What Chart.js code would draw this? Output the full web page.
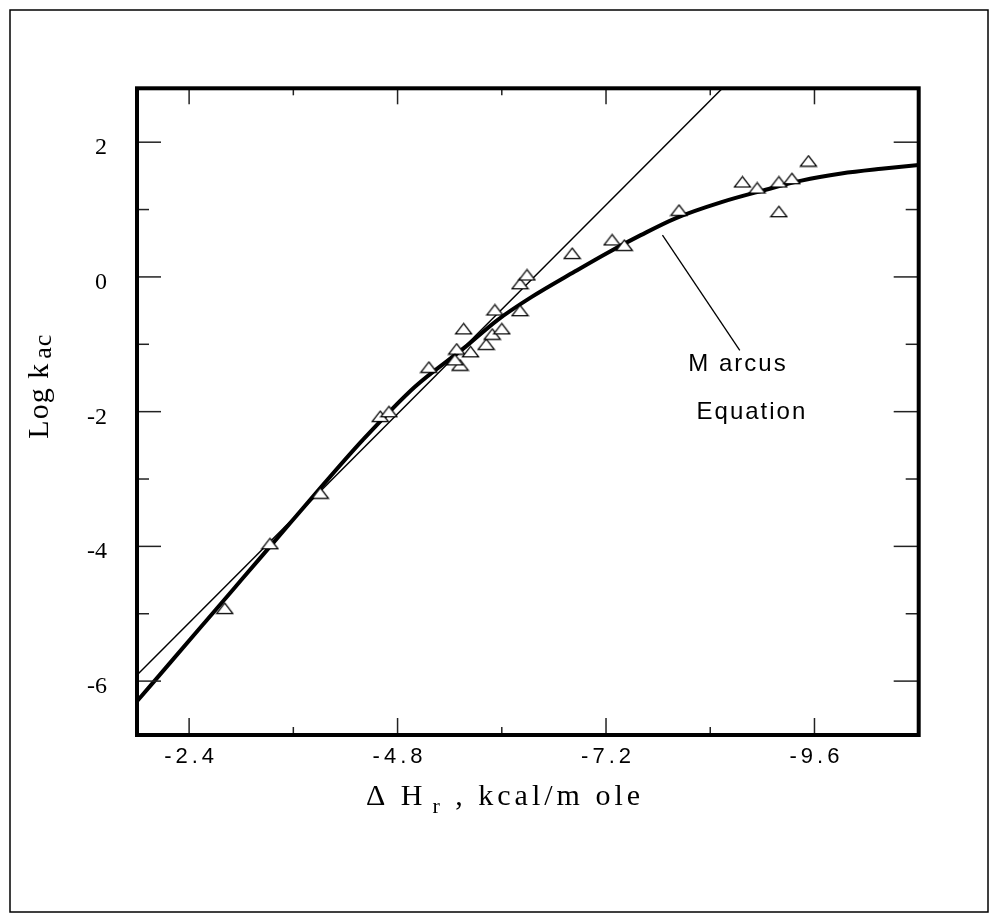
<!DOCTYPE html>
<html>
<head>
<meta charset="utf-8">
<script src="https://cdn.jsdelivr.net/npm/chart.js@4.4.1/dist/chart.umd.min.js"></script>
<style>
  html, body { margin: 0; padding: 0; background: #fff; }
</style>
</head>
<body>
<canvas id="marcusChart" width="998" height="922"></canvas>
<script>
// measured rate constants (open triangles)
const enthalpy = [-2.81, -3.33, -3.91, -4.60, -4.70, -5.16, -5.48, -5.52, -5.46, -5.56, -5.64, -5.82,
                  -5.89, -5.92, -6.00, -6.21, -6.21, -6.29, -6.81, -7.27, -7.41, -8.04, -8.77, -8.94,
                  -9.19, -9.19, -9.34, -9.53];
const logK = [-4.92, -3.96, -3.21, -2.07, -2.00, -1.34, -1.07, -1.31, -1.23, -0.77, -1.11, -1.00,
              -0.85, -0.49, -0.77, -0.10, -0.50, 0.03, 0.35, 0.55, 0.47, 0.99, 1.41, 1.32,
              1.41, 0.97, 1.46, 1.72];

// Marcus equation curve (thick line)
const marcusX = [-1.8, -2.2, -2.6, -3.0, -3.4, -3.9, -4.4, -5.0, -5.57, -5.95, -6.34, -6.84,
                 -7.22, -7.6, -8.0, -8.53, -9.0, -9.45, -9.91, -10.37, -10.8];
const marcusY = [-6.30, -5.70, -5.10, -4.50, -3.90, -3.15, -2.42, -1.63, -1.05, -0.64, -0.30, 0.08,
                 0.36, 0.62, 0.87, 1.11, 1.28, 1.43, 1.535, 1.605, 1.66];

// straight line (thin)
const straightX = [-1.8, -8.54];
const straightY = [-5.91, 2.80];

// pointer from the label to the curve
const pointerX = [-7.85, -8.74];
const pointerY = [0.62, -1.09];

// axes
const xMajor = [-2.4, -4.8, -7.2, -9.6];
const xMinor = [-3.6, -6.0, -8.4];
const yMajor = [2, 0, -2, -4, -6];
const yMinor = [1, -1, -3, -5];

// open triangle marker
function makeTriangle() {
    const c = document.createElement('canvas');
    c.width = 19;
    c.height = 13;
    const g = c.getContext('2d');
    g.beginPath();
    g.moveTo(9.5, 1.2);
    g.lineTo(17.5, 11.6);
    g.lineTo(1.5, 11.6);
    g.closePath();
    g.fillStyle = '#fff';
    g.fill();
    g.strokeStyle = '#000';
    g.lineWidth = 1.3;
    g.stroke();
    return c;
}

function seg(ctx, x1, y1, x2, y2) {
    ctx.beginPath();
    ctx.moveTo(x1, y1);
    ctx.lineTo(x2, y2);
    ctx.stroke();
}

// frame, inside ticks, labels and titles
const decorations = {
    id: 'decorations',
    afterDraw(chart) {
        const ctx = chart.ctx;
        const a = chart.chartArea;
        const xs = chart.scales.x;
        const ys = chart.scales.y;
        ctx.save();

        // ticks on all four sides
        ctx.strokeStyle = '#222';
        ctx.lineWidth = 1.5;
        xMajor.forEach(v => {
            const px = xs.getPixelForValue(v);
            seg(ctx, px, a.bottom, px, a.bottom - 17);
            seg(ctx, px, a.top, px, a.top + 16);
        });
        xMinor.forEach(v => {
            const px = xs.getPixelForValue(v);
            seg(ctx, px, a.bottom, px, a.bottom - 8);
            seg(ctx, px, a.top, px, a.top + 7);
        });
        yMajor.forEach(v => {
            const py = ys.getPixelForValue(v);
            seg(ctx, a.left, py, a.left + 24, py);
            seg(ctx, a.right, py, a.right - 25, py);
        });
        yMinor.forEach(v => {
            const py = ys.getPixelForValue(v);
            seg(ctx, a.left, py, a.left + 12, py);
            seg(ctx, a.right, py, a.right - 13, py);
        });

        // plot frame
        ctx.strokeStyle = '#000';
        ctx.lineWidth = 4;
        ctx.strokeRect(a.left, a.top, a.right - a.left, a.bottom - a.top);

        // outer figure frame
        ctx.lineWidth = 1.5;
        ctx.strokeRect(10, 10, 978, 902);

        ctx.fillStyle = '#000';

        // x tick labels
        ctx.font = '22px "Liberation Sans", Arial, sans-serif';
        ctx.letterSpacing = '4px';
        ctx.textAlign = 'center';
        ctx.textBaseline = 'alphabetic';
        xMajor.forEach(v => {
            ctx.fillText(v.toFixed(1), xs.getPixelForValue(v) + 2, a.bottom + 28);
        });

        // y tick labels
        ctx.font = '24px "Liberation Serif", "Times New Roman", serif';
        ctx.letterSpacing = '0px';
        ctx.textAlign = 'right';
        yMajor.forEach(v => {
            ctx.fillText(String(v), a.left - 30, ys.getPixelForValue(v) + 12);
        });

        // x title: ΔH_r, kcal/mole
        ctx.textAlign = 'left';
        ctx.letterSpacing = '4px';
        const big = '30px "Liberation Serif", "Times New Roman", serif';
        const small = '22px "Liberation Serif", "Times New Roman", serif';
        ctx.font = big;
        const p1 = 'Δ H';
        const p3 = ' , kcal/m ole';
        const w1 = ctx.measureText(p1).width;
        const w3 = ctx.measureText(p3).width;
        ctx.font = small;
        const w2 = ctx.measureText('r').width + 6;
        const tx = 505 - (w1 + w2 + w3) / 2;
        const ty = a.bottom + 70;
        ctx.font = big;
        ctx.fillText(p1, tx, ty);
        ctx.font = small;
        ctx.fillText('r', tx + w1 + 6, ty + 8);
        ctx.font = big;
        ctx.fillText(p3, tx + w1 + w2, ty);

        // y title: Log k_ac
        ctx.save();
        ctx.translate(48, 388);
        ctx.rotate(-Math.PI / 2);
        ctx.letterSpacing = '1px';
        ctx.font = big;
        const m1 = 'Log k';
        const wm1 = ctx.measureText(m1).width;
        ctx.font = small;
        const wm2 = ctx.measureText('ac').width;
        const sx = -(wm1 + wm2 + 4) / 2;
        ctx.font = big;
        ctx.fillText(m1, sx, 0);
        ctx.font = '26px "Liberation Serif", "Times New Roman", serif';
        ctx.fillText('ac', sx + wm1 + 4, 3);
        ctx.restore();

        // Marcus Equation label
        ctx.font = '24px "Liberation Sans", Arial, sans-serif';
        ctx.letterSpacing = '2px';
        ctx.textAlign = 'center';
        ctx.fillText('M arcus', xs.getPixelForValue(-8.72), ys.getPixelForValue(-1.26) + 9);
        ctx.fillText('Equation', xs.getPixelForValue(-8.88), ys.getPixelForValue(-1.97) + 9);

        ctx.restore();
    }
};

const ctx = document.getElementById('marcusChart').getContext('2d');
new Chart(ctx, {
    type: 'scatter',
    data: {
        datasets: [
            {
                label: 'Measured',
                data: enthalpy.map((x, i) => ({ x: x, y: logK[i] })),
                pointStyle: makeTriangle(),
                pointRadius: 6,
                showLine: false,
            },
            {
                label: 'Marcus Equation',
                type: 'line',
                data: marcusX.map((x, i) => ({ x: x, y: marcusY[i] })),
                borderColor: '#000',
                borderWidth: 4,
                pointRadius: 0,
                cubicInterpolationMode: 'monotone',
                fill: false,
            },
            {
                label: 'Linear',
                type: 'line',
                data: straightX.map((x, i) => ({ x: x, y: straightY[i] })),
                borderColor: '#000',
                borderWidth: 1.5,
                pointRadius: 0,
                fill: false,
            },
            {
                label: 'Pointer',
                type: 'line',
                data: pointerX.map((x, i) => ({ x: x, y: pointerY[i] })),
                borderColor: '#000',
                borderWidth: 1.3,
                pointRadius: 0,
                fill: false,
            },
        ],
    },
    options: {
        responsive: false,
        animation: false,
        events: [],
        layout: {
            padding: { left: 137, top: 88.3, right: 79.3, bottom: 187 },
        },
        scales: {
            x: {
                type: 'linear',
                min: -10.8,
                max: -1.8,
                reverse: true,
                display: false,
            },
            y: {
                type: 'linear',
                min: -6.8,
                max: 2.8,
                display: false,
            },
        },
        plugins: {
            legend: { display: false },
            tooltip: { enabled: false },
        },
    },
    plugins: [decorations],
});
</script>
</body>
</html>
